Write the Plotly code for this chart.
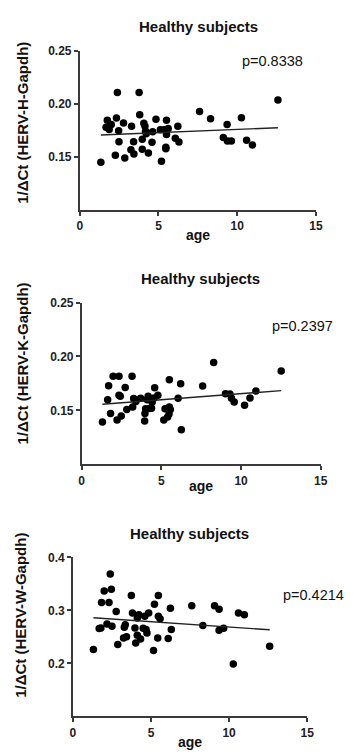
import numpy as np
import plotly.graph_objects as go

# ---------------- data ----------------
age_h = [1.34, 1.75, 1.67, 1.87, 2.0, 2.39, 2.33, 2.47, 2.49, 2.26, 2.78, 2.86, 3.29, 3.25, 3.42,
         3.44, 3.77, 3.81, 3.97, 3.97, 4.07, 4.14, 4.18, 4.22, 4.36, 4.59, 4.63, 4.84, 5.12, 5.19,
         5.35, 5.47, 5.51, 5.51, 5.47, 5.62, 6.07, 6.23, 6.3, 7.61, 8.31, 9.12, 9.36, 9.38, 9.63,
         10.27, 10.6, 10.97, 12.59]
herv_h = [0.145, 0.1846, 0.178, 0.176, 0.1806, 0.2108, 0.1867, 0.1747, 0.1645, 0.1516, 0.182, 0.149,
          0.179, 0.1568, 0.1645, 0.1528, 0.2108, 0.1898, 0.1667, 0.1574, 0.1818, 0.179, 0.1744, 0.172,
          0.1537, 0.1639, 0.1738, 0.1855, 0.1756, 0.146, 0.1756, 0.1577, 0.1846, 0.1713, 0.1593, 0.1769,
          0.1676, 0.179, 0.1642, 0.1929, 0.1861, 0.1685, 0.1806, 0.1651, 0.1651, 0.187, 0.1658, 0.1614,
          0.2037]

age_k = [1.30, 1.63, 1.69, 1.81, 1.97, 2.34, 2.22, 2.34, 2.42, 2.48, 2.73, 2.83, 3.2, 3.26, 3.4,
         3.16, 3.7, 3.4, 3.95, 3.97, 4.01, 4.11, 4.17, 4.25, 4.38, 4.42, 4.54, 4.58, 4.78, 5.15,
         5.23, 5.39, 5.5, 5.5, 5.56, 5.48, 6.05, 6.21, 6.25, 7.59, 8.28, 9.02, 9.3, 9.4, 9.57,
         10.22, 10.56, 10.93, 12.52]
herv_k = [0.1393, 0.1598, 0.1729, 0.1472, 0.1817, 0.1817, 0.1412, 0.164, 0.1631, 0.1448, 0.1713, 0.1509,
          0.1533, 0.161, 0.1582, 0.1817, 0.1613, 0.16, 0.1402, 0.1472, 0.1515, 0.16, 0.1631, 0.1518,
          0.1521, 0.1576, 0.1616, 0.171, 0.164, 0.1412, 0.1515, 0.1439, 0.1784, 0.1533, 0.1509, 0.1466,
          0.1613, 0.1747, 0.132, 0.1726, 0.1945, 0.1655, 0.1652, 0.1613, 0.1579, 0.1549, 0.1616, 0.168,
          0.1866]

age_w = [1.31, 1.68, 1.79, 1.83, 2.0, 2.31, 2.39, 2.46, 2.77, 2.18, 2.5, 2.87, 3.35, 3.29, 3.24,
         3.43, 3.74, 3.81, 3.97, 4.02, 4.12, 4.22, 4.33, 4.12, 4.5, 4.6, 4.85, 4.68, 4.74, 5.16,
         5.22, 5.47, 5.47, 5.58, 5.43, 6.1, 6.24, 6.3, 7.61, 8.32, 9.07, 9.36, 9.36, 9.65, 10.27,
         10.6, 10.98, 12.6]
herv_w = [0.2262, 0.2655, 0.2667, 0.3148, 0.3367, 0.3148, 0.3685, 0.3397, 0.298, 0.274, 0.270, 0.2356,
          0.273, 0.268, 0.248, 0.250, 0.328, 0.2948, 0.2667, 0.2386, 0.2854, 0.2918, 0.246, 0.253,
          0.266, 0.2886, 0.2948, 0.2637, 0.2573, 0.2243, 0.3116, 0.328, 0.2886, 0.2843, 0.248, 0.2468,
          0.3041, 0.2637, 0.3086, 0.2712, 0.3086, 0.3022, 0.2624, 0.2661, 0.1987, 0.2948, 0.2918,
          0.2324]

titles = ["Healthy subjects", "Healthy subjects", "Healthy subjects"]
y_titles = ["1/ΔCt (HERV-H-Gapdh)", "1/ΔCt (HERV-K-Gapdh)", "1/ΔCt (HERV-W-Gapdh)"]
p_texts = ["p=0.8338", "p=0.2397", "p=0.4214"]
x_ticks = [0, 5, 10, 15]
y_ticks_hk = [0.15, 0.20, 0.25]
y_ticklabels_hk = ["0.15", "0.20", "0.25"]
y_ticks_w = [0.2, 0.3, 0.4]
y_ticklabels_w = ["0.2", "0.3", "0.4"]

# ---------------- layout geometry (pixels) ----------------
W, H = 353, 752

def px(x):
    return x / W

def py(y):
    return 1 - y / H

panels = [
    dict(ages=age_h, vals=herv_h, xl=79, xr=322, yt=44.3, yb=205, yr=[0.10, 0.25],
         yticks=y_ticks_hk, ylabels=y_ticklabels_hk,
         title_xy=(201, 20), ytitle_xy=(20.5, 117), age_xy=(200.5, 230), p_xy=(277.5, 55), p_anchor="center"),
    dict(ages=age_k, vals=herv_k, xl=81, xr=327, yt=298.3, yb=461.7, yr=[0.10, 0.25],
         yticks=y_ticks_hk, ylabels=y_ticklabels_hk,
         title_xy=(203, 274), ytitle_xy=(20.5, 360), age_xy=(204, 483), p_xy=(308, 322), p_anchor="center"),
    dict(ages=age_w, vals=herv_w, xl=72, xr=313, yt=555.5, yb=716, yr=[0.10, 0.40],
         yticks=y_ticks_w, ylabels=y_ticklabels_w,
         title_xy=(192, 531.5), ytitle_xy=(18, 614), age_xy=(192.5, 742), p_xy=(353, 594), p_anchor="right"),
]

FONT = "Liberation Sans, Arial, sans-serif"
AXC = "#3a3a3a"

fig = go.Figure()
annotations = []
layout_axes = {}

for i, p in enumerate(panels):
    n = "" if i == 0 else str(i + 1)
    xa, ya = "x" + n, "y" + n
    ages = np.array(p["ages"])
    vals = np.array(p["vals"])
    fig.add_trace(go.Scatter(x=ages, y=vals, mode="markers", xaxis=xa, yaxis=ya,
                             marker=dict(color="black", size=7.5), showlegend=False,
                             cliponaxis=False))
    slope, icpt = np.polyfit(ages, vals, 1)
    fx = np.array([ages.min(), ages.max()])
    fig.add_trace(go.Scatter(x=fx, y=slope * fx + icpt, mode="lines", xaxis=xa, yaxis=ya,
                             line=dict(color="#222222", width=1.4), showlegend=False))

    layout_axes["xaxis" + n] = dict(
        domain=[px(p["xl"]), px(p["xr"])], range=[0, 15], anchor=ya,
        tickvals=x_ticks, ticktext=[str(t) for t in x_ticks],
        showline=True, linecolor=AXC, linewidth=1.6, ticks="outside", ticklen=4,
        tickwidth=1.6, tickcolor=AXC, showgrid=False, zeroline=False,
        tickfont=dict(family=FONT, size=12, color="#222222", weight="bold"), fixedrange=True)
    layout_axes["yaxis" + n] = dict(
        domain=[py(p["yb"]), py(p["yt"])], range=p["yr"], anchor=xa,
        tickvals=p["yticks"], ticktext=p["ylabels"],
        showline=True, linecolor=AXC, linewidth=1.6, ticks="outside", ticklen=4,
        tickwidth=1.6, tickcolor=AXC, showgrid=False, zeroline=False,
        tickfont=dict(family=FONT, size=12, color="#222222", weight="bold"), fixedrange=True)

    tx, ty = p["title_xy"]
    annotations.append(dict(text=titles[i], x=px(tx), y=py(ty), xref="paper", yref="paper",
                            showarrow=False, xanchor="center", yanchor="middle",
                            font=dict(family=FONT, size=15, color="#111111", weight="bold")))
    yx, yy = p["ytitle_xy"]
    annotations.append(dict(text=y_titles[i], x=px(yx), y=py(yy), xref="paper", yref="paper",
                            showarrow=False, xanchor="center", yanchor="middle", textangle=-90,
                            font=dict(family=FONT, size=15, color="#111111", weight="bold")))
    ax_, ay_ = p["age_xy"]
    annotations.append(dict(text="age", x=px(ax_), y=py(ay_), xref="paper", yref="paper",
                            showarrow=False, xanchor="center", yanchor="middle",
                            font=dict(family=FONT, size=14, color="#111111", weight="bold")))
    qx, qy = p["p_xy"]
    annotations.append(dict(text=p_texts[i], x=px(qx), y=py(qy), xref="paper", yref="paper",
                            showarrow=False, xanchor=p["p_anchor"], yanchor="middle",
                            font=dict(family=FONT, size=14.5, color="#111111")))

fig.update_layout(
    width=W, height=H, autosize=False,
    margin=dict(l=0, r=0, t=0, b=0),
    paper_bgcolor="white", plot_bgcolor="white",
    annotations=annotations,
    **layout_axes,
)

fig.write_html(
    "out.html",
    config={"displayModeBar": False},
    post_script="document.body.style.margin='0';document.body.style.padding='0';"
                "document.documentElement.style.overflow='hidden';",
)
